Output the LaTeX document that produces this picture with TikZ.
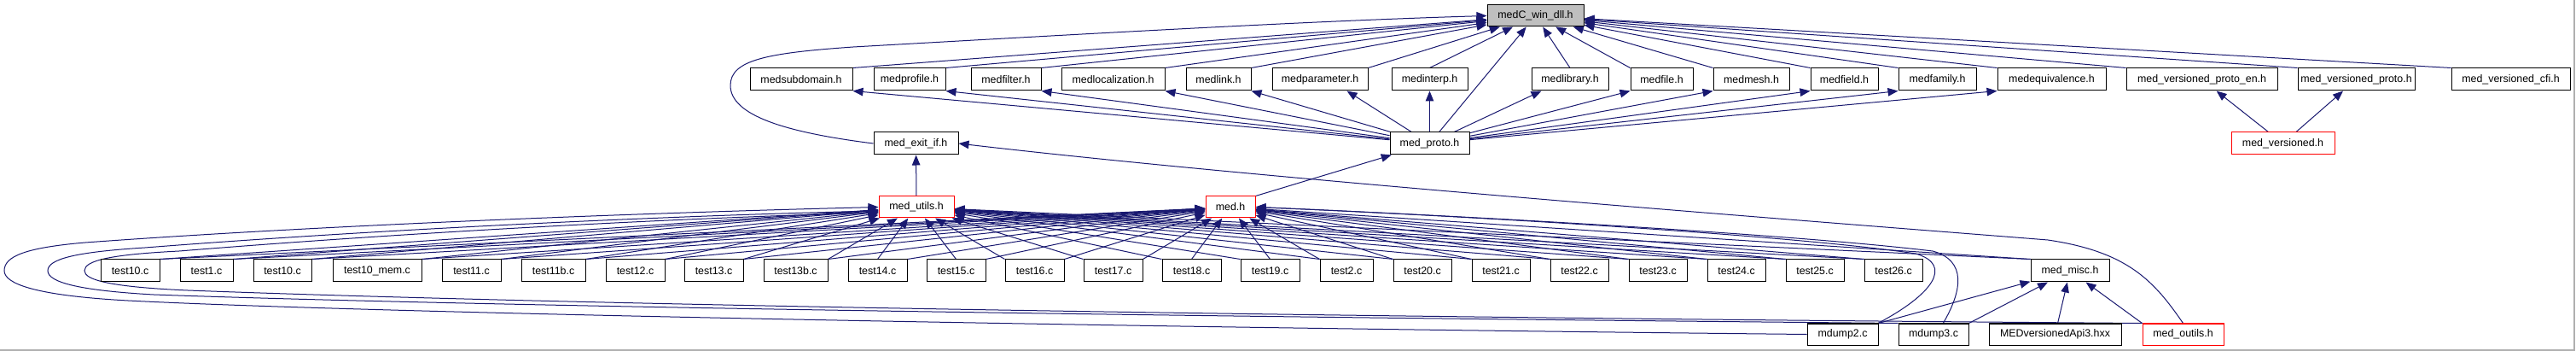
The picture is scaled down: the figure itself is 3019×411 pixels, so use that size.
\documentclass[tikz,border=0pt]{standalone}
\usepackage{fontspec}
\setmainfont{Liberation Sans}
\usetikzlibrary{arrows.meta}
\definecolor{edgeblue}{RGB}{25,25,112}
\definecolor{rootgray}{RGB}{191,191,191}
\definecolor{boxred}{RGB}{255,0,0}
\definecolor{framegray}{RGB}{176,176,176}
\pgfdeclarelayer{bottom}
\pgfdeclarelayer{background}
\pgfsetlayers{bottom,background,main}
\newcommand\mkbox[6][]{\node[box,minimum width=#5pt,#1] (#2) at (#3,#4) {#6};}
\begin{document}
\begin{tikzpicture}[x=1pt,y=-1pt,
  box/.style={draw=black,fill=white,line width=1pt,inner sep=0pt,minimum height=26pt,
    font=\fontsize{12.4}{15}\selectfont},
  redbox/.style={draw=boxred},
  edge/.style={draw=edgeblue,line width=1pt,-{Triangle[length=12pt,width=9.5pt]}}]
\useasboundingbox (0,0) rectangle (3019,411);
% top
\mkbox[fill=rootgray,minimum height=25pt]{medc}{1799.5}{18.5}{113}{medC\_win\_dll.h}
% row 2
\mkbox{msd}{939}{93}{120}{medsubdomain.h}
\mkbox{mprof}{1066}{93}{84}{medprofile.h}
\mkbox{mfilt}{1179}{93}{82}{medfilter.h}
\mkbox{mloc}{1304.5}{93}{121}{medlocalization.h}
\mkbox{mlink}{1428}{93}{76}{medlink.h}
\mkbox{mparam}{1547}{93}{112}{medparameter.h}
\mkbox{minterp}{1675.5}{93}{89}{medinterp.h}
\mkbox{mlib}{1840}{93}{90}{medlibrary.h}
\mkbox{mfile}{1947.5}{93}{73}{medfile.h}
\mkbox{mmesh}{2052.5}{93}{89}{medmesh.h}
\mkbox{mfield}{2161.5}{93}{79}{medfield.h}
\mkbox{mfam}{2270.5}{93}{91}{medfamily.h}
\mkbox{mequiv}{2404.5}{93}{127}{medequivalence.h}
\mkbox{mvpe}{2580.5}{93}{177}{med\_versioned\_proto\_en.h}
\mkbox{mvp}{2761.5}{93}{137}{med\_versioned\_proto.h}
\mkbox{mvcfi}{2942.5}{93}{139}{med\_versioned\_cfi.h}
% row 3
\mkbox{mei}{1073.5}{168}{99}{med\_exit\_if.h}
\mkbox{mproto}{1675.5}{168}{93}{med\_proto.h}
\mkbox[redbox]{mver}{2675.5}{168}{121}{med\_versioned.h}
% row 4
\mkbox[redbox,minimum height=25pt]{mu}{1074}{242.5}{88}{med\_utils.h}
\mkbox[redbox,minimum height=25pt]{medh}{1442}{242.5}{58}{med.h}
% row 5
\mkbox{ta}{152.5}{317}{69}{test10.c}
\mkbox{tb}{242}{317}{62}{test1.c}
\mkbox{tc}{331}{317}{68}{test10.c}
\mkbox{td}{442}{317}{104}{test10\_mem.c}
\mkbox{te}{552.5}{317}{69}{test11.c}
\mkbox{tf}{648.5}{317}{75}{test11b.c}
\mkbox{tg}{744.5}{317}{69}{test12.c}
\mkbox{th}{836.5}{317}{69}{test13.c}
\mkbox{ti}{932.5}{317}{75}{test13b.c}
\mkbox{tj}{1028.5}{317}{69}{test14.c}
\mkbox{tk}{1120.5}{317}{69}{test15.c}
\mkbox{tl}{1212.5}{317}{69}{test16.c}
\mkbox{tm}{1304.5}{317}{69}{test17.c}
\mkbox{tn}{1396.5}{317}{69}{test18.c}
\mkbox{to}{1488.5}{317}{69}{test19.c}
\mkbox{tp}{1578}{317}{62}{test2.c}
\mkbox{tq}{1667}{317}{68}{test20.c}
\mkbox{tr}{1759}{317}{68}{test21.c}
\mkbox{ts}{1851}{317}{68}{test22.c}
\mkbox{tt}{1943}{317}{68}{test23.c}
\mkbox{tu}{2035}{317}{68}{test24.c}
\mkbox{tv}{2127}{317}{68}{test25.c}
\mkbox{tw}{2219}{317}{68}{test26.c}
\mkbox{mmisc}{2426}{317}{92}{med\_misc.h}
% row 6
\mkbox[minimum height=25pt]{md2}{2159.5}{391.5}{83}{mdump2.c}
\mkbox[minimum height=25pt]{md3}{2266}{391.5}{82}{mdump3.c}
\mkbox[minimum height=25pt]{mapi}{2408.5}{391.5}{155}{MEDversionedApi3.hxx}
\mkbox[redbox,minimum height=25pt]{mo}{2558.5}{391.5}{95}{med\_outils.h}
\begin{pgfonlayer}{bottom}
\fill[white] (0,0) rectangle (3019,411);
\draw[framegray,line width=1.5pt] (0,410.2) -- (3016.8,410.2) -- (3016.8,0);
\end{pgfonlayer}
\begin{pgfonlayer}{background}
% edges to medC
\foreach \n in {msd,mprof,mfilt,mloc,mlink,mparam}
  {\draw[edge] (\n.north east) -- (medc);}
\foreach \n in {minterp,mlib}
  {\draw[edge] (\n.north) -- (medc);}
\foreach \n in {mfile,mmesh,mfield,mfam,mequiv,mvpe,mvp,mvcfi}
  {\draw[edge] (\n.north west) -- (medc);}
\draw[edge] (mproto) -- (medc);
\draw[edge] (mei.west) .. controls (920,155) and (856,135) .. (856,100)
  .. controls (856,70) and (900,62) .. (1000,55)
  .. controls (1300,38) and (1550,24) .. (medc.west);
% med_proto edges
\foreach \n in {msd,mprof,mfilt,mloc,mlink}
  {\draw[edge] (mproto) -- (\n.south east);}
\draw[edge] (mproto) -- ([xshift=-25pt]mparam.south east);
\draw[edge] (mproto) -- (minterp);
\draw[edge] (mproto) -- ([xshift=12pt]mlib.south west);
\foreach \n in {mfile,mmesh,mfield,mfam,mequiv}
  {\draw[edge] (mproto) -- (\n.south west);}
\draw[edge] (mver) -- (mvpe);
\draw[edge] (mver) -- (mvp);
\draw[edge] (mu) -- (mei);
\draw[edge] (medh.north east) -- (mproto);
\draw[edge] (mo.north) .. controls (2525,330) and (2495,295) .. (2400,281)
  .. controls (2200,265) and (1500,212) .. (mei.east);
% tests -> med_utils.h
\foreach \n in {ta,tb,tc,td,te,tf,tg,th,ti}
  {\draw[edge] (\n.north east) -- (mu);}
\foreach \n in {tj,tk}
  {\draw[edge] (\n.north) -- (mu);}
\foreach \n in {tl,tm,tn,to,tp,tq,tr,ts,tt,tu,tv,tw}
  {\draw[edge] (\n.north west) -- (mu);}
% tests -> med.h
\foreach \n in {ta,tb,tc,td,te,tf,tg,th,ti,tj,tk,tl,tm}
  {\draw[edge] (\n.north east) -- (medh);}
\foreach \n in {tn,to}
  {\draw[edge] (\n.north) -- (medh);}
\foreach \n in {tp,tq,tr,ts,tt,tu,tv,tw}
  {\draw[edge] (\n.north west) -- (medh);}
\draw[edge] (mmisc.north west) -- (mu);
\draw[edge] (mmisc.north west) -- (medh);
% bottom row
\draw[edge] (md2.north east) -- (mmisc);
\draw[edge] (md3.north east) -- (mmisc);
\draw[edge] (mapi) -- (mmisc);
\draw[edge] (mo.north west) -- (mmisc);
\draw[edge] (2200,379) .. controls (2265,345) and (2290,310) .. (2245,297)
  .. controls (2100,275) and (1700,252) .. (medh.east);
\draw[edge] (2277,379) .. controls (2300,340) and (2305,305) .. (2265,294)
  .. controls (2100,274) and (1700,252) .. (medh.east);
% left loops
\draw[edge] (md2.west) .. controls (1200,382) and (400,365) .. (150,352)
  .. controls (40,346) and (5,332) .. (5,317)
  .. controls (5,300) and (30,290) .. (100,284)
  .. controls (400,262) and (800,248) .. (mu.west);
\draw[edge] (md3.north west) .. controls (1500,372) and (600,360) .. (180,345)
  .. controls (90,340) and (56,330) .. (56,317)
  .. controls (56,303) and (90,295) .. (170,290)
  .. controls (450,268) and (800,252) .. (1030,247);
\draw[edge] (mo.north west) .. controls (1600,372) and (700,358) .. (220,340)
  .. controls (130,336) and (99,328) .. (99,317)
  .. controls (99,305) and (130,298) .. (210,294)
  .. controls (480,272) and (800,255) .. (1030,249);
\end{pgfonlayer}
\end{tikzpicture}
\end{document}
